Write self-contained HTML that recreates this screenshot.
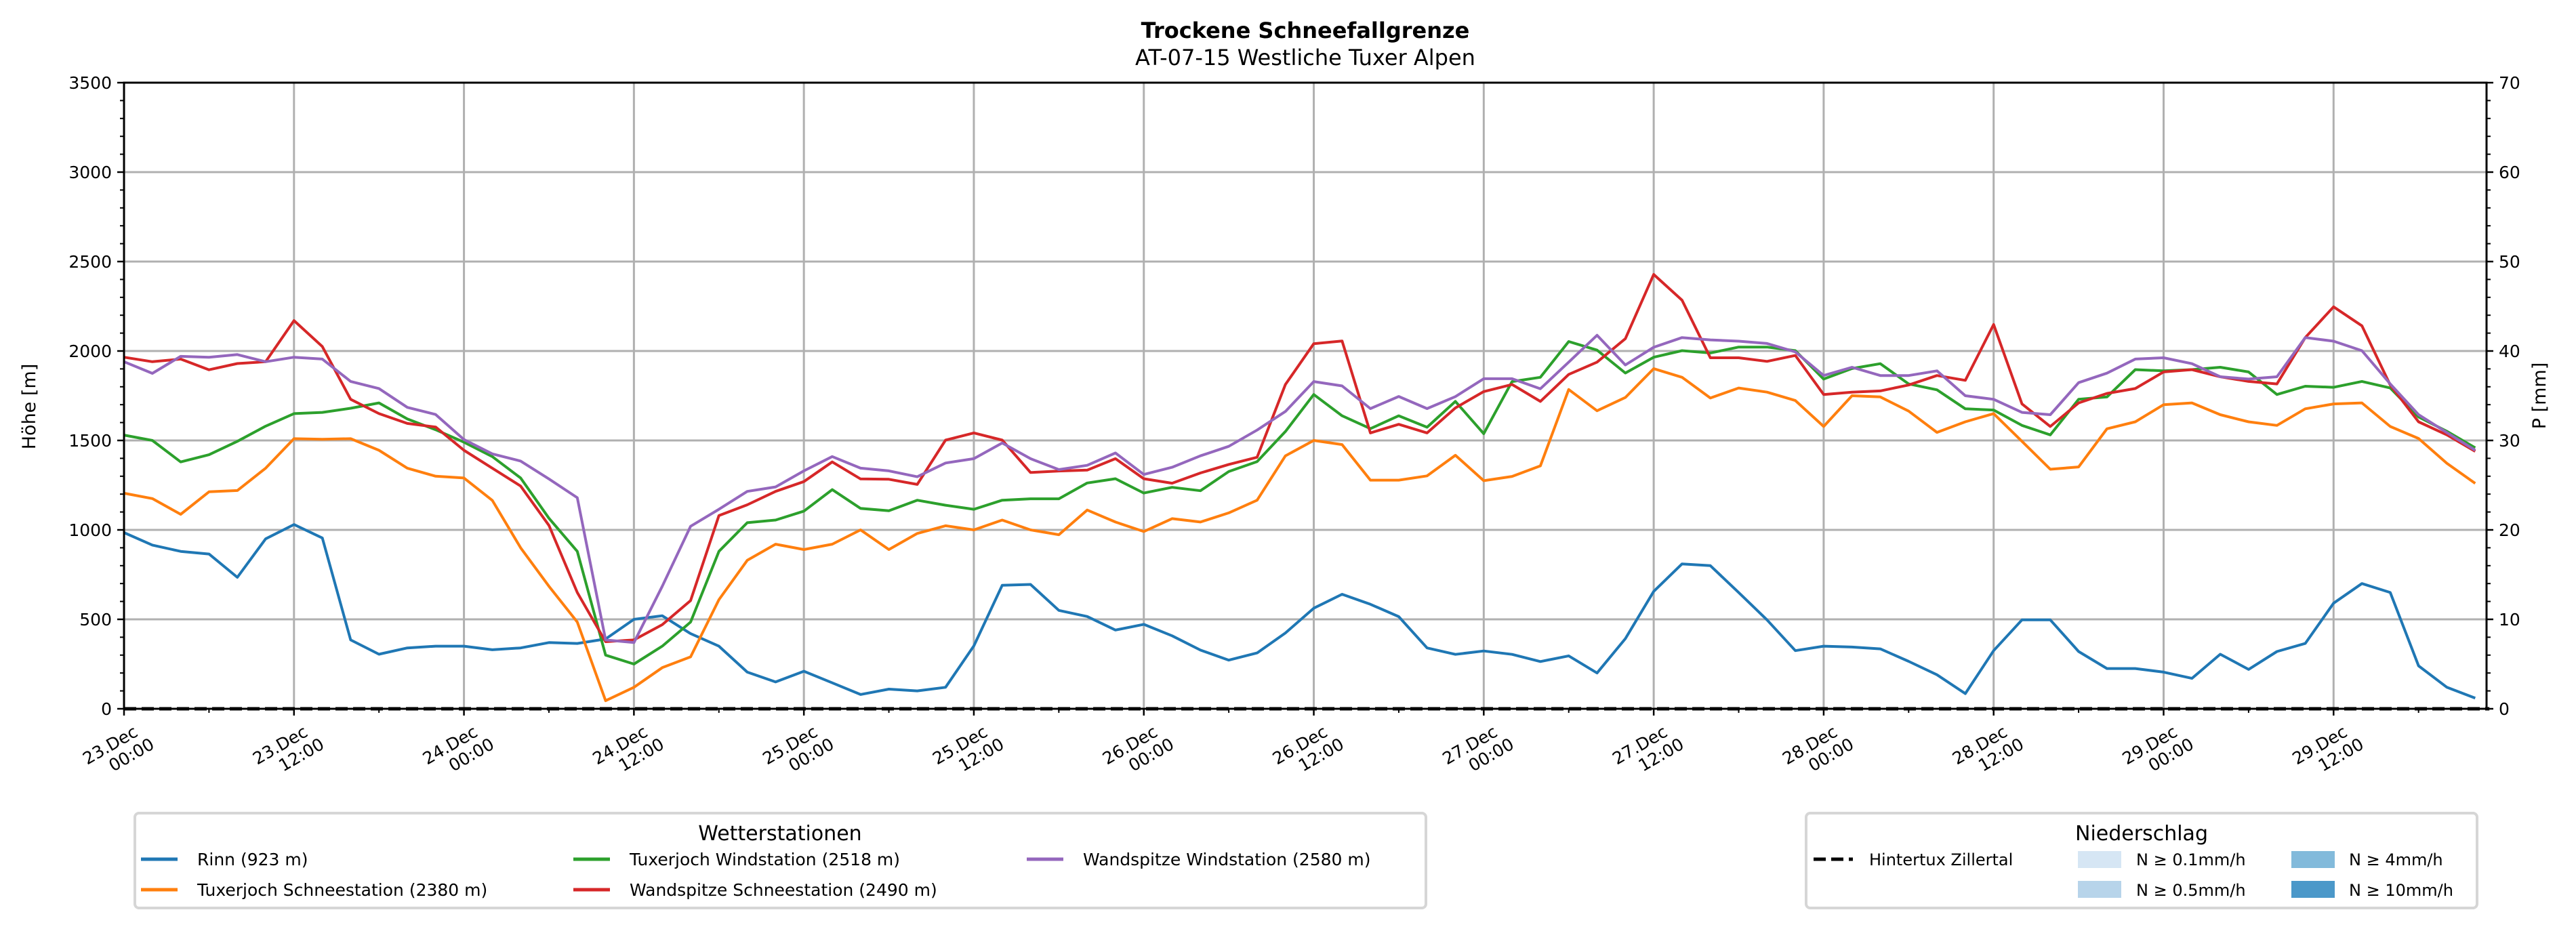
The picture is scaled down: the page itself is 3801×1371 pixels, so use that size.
<!DOCTYPE html>
<html><head><meta charset="utf-8"><style>
html,body{margin:0;padding:0;background:#fff;}
svg{display:block;font-family:"DejaVu Sans","Liberation Sans",sans-serif;}
</style></head><body>
<svg id="chart" width="3801" height="1371" viewBox="0 0 3801 1371" xmlns="http://www.w3.org/2000/svg">
<rect width="3801" height="1371" fill="#fff"/>
<text x="1926" y="56" text-anchor="middle" font-size="32" font-weight="bold">Trockene Schneefallgrenze</text>
<text x="1926" y="96" text-anchor="middle" font-size="32">AT-07-15 Westliche Tuxer Alpen</text>
<g id="grid"></g>
<g id="series"></g>
<g id="axes"></g>
<text transform="translate(52,600) rotate(-90)" text-anchor="middle" font-size="27">Höhe [m]</text>
<text transform="translate(3756,584) rotate(-90)" text-anchor="middle" font-size="27">P [mm]</text>

<g>
<rect x="199" y="1200" width="1905" height="140" rx="6" fill="#fff" stroke="#d6d6d6" stroke-width="4"/>
<text x="1151" y="1240" text-anchor="middle" font-size="30">Wetterstationen</text>
<g><line x1="208" y1="1268" x2="262" y2="1268" stroke="#1f77b4" stroke-width="5"/><text x="291" y="1277" font-size="25">Rinn (923 m)</text></g>
<g><line x1="208" y1="1313" x2="262" y2="1313" stroke="#ff7f0e" stroke-width="5"/><text x="291" y="1322" font-size="25">Tuxerjoch Schneestation (2380 m)</text></g>
<g><line x1="846" y1="1268" x2="900" y2="1268" stroke="#2ca02c" stroke-width="5"/><text x="929" y="1277" font-size="25">Tuxerjoch Windstation (2518 m)</text></g>
<g><line x1="846" y1="1313" x2="900" y2="1313" stroke="#d62728" stroke-width="5"/><text x="929" y="1322" font-size="25">Wandspitze Schneestation (2490 m)</text></g>
<g><line x1="1515" y1="1268" x2="1569" y2="1268" stroke="#9467bd" stroke-width="5"/><text x="1598" y="1277" font-size="25">Wandspitze Windstation (2580 m)</text></g>
</g>

<g>
<rect x="2665" y="1200" width="990" height="140" rx="6" fill="#fff" stroke="#d6d6d6" stroke-width="4"/>
<text x="3160" y="1240" text-anchor="middle" font-size="30">Niederschlag</text>
<g><line x1="2676" y1="1268" x2="2734" y2="1268" stroke="#000" stroke-width="5" stroke-dasharray="18,8"/><text x="2758" y="1277" font-size="24">Hintertux Zillertal</text></g>
<g><rect x="3066" y="1256" width="64" height="25" fill="#d6e6f4"/><text x="3152" y="1277" font-size="24">N ≥ 0.1mm/h</text></g>
<g><rect x="3066" y="1300" width="64" height="25" fill="#b7d4ea"/><text x="3152" y="1322" font-size="24">N ≥ 0.5mm/h</text></g>
<g><rect x="3381" y="1256" width="64" height="25" fill="#82badb"/><text x="3466" y="1277" font-size="24">N ≥ 4mm/h</text></g>
<g><rect x="3381" y="1300" width="64" height="25" fill="#4b98c9"/><text x="3466" y="1322" font-size="24">N ≥ 10mm/h</text></g>
</g>
</svg>
<script>
const hours = [];
for (let h = 0; h <= 166; h += 2) hours.push(h);
const rinn = [985,915,880,865,735,950,1030,955,385,305,340,350,350,330,340,370,365,390,500,520,420,350,205,150,210,145,80,
110,100,120,352,690,695,550,516,440,472,408,328,272,312,424,
562,640,584,515,340,304,323,304,264,296,200,392,656,810,
800,650,497,325,350,345,335,265,190,85,325,497,497,320,225,225,205,170,305,220,320,365,590,700,650,240,120,60];
const tuxSchnee = [1205,1175,1087,1213,1220,1345,1510,1507,1510,1445,1345,1300,1290,1165,900,685,485,45,120,230,290,610,830,920,890,920,1000,
890,980,1023,1000,1055,1000,973,1111,1044,991,1063,1044,1095,1166,1414,
1500,1477,1278,1278,1302,1417,1275,1299,1358,1785,1666,1740,1901,1853,
1737,1793,1770,1723,1578,1750,1743,1664,1545,1604,1650,1495,1339,1352,1565,1604,1700,1710,1644,1604,1584,1677,1704,1710,1578,1511,1372,1260];
const tuxWind = [1530,1500,1380,1420,1495,1580,1650,1657,1680,1710,1620,1560,1490,1410,1290,1065,880,300,250,350,485,880,1040,1055,1105,1225,1120,
1107,1166,1138,1115,1166,1174,1174,1262,1286,1206,1238,1219,1326,1382,1550,
1757,1638,1566,1638,1574,1718,1538,1829,1853,2053,2005,1877,1965,2002,
1989,2022,2022,2002,1843,1902,1929,1816,1783,1677,1670,1584,1531,1730,1743,1896,1889,1896,1909,1883,1757,1803,1797,1830,1793,1631,1551,1459];
const wandSchnee = [1965,1940,1955,1895,1930,1940,2170,2025,1730,1650,1595,1575,1445,1345,1245,1025,650,375,385,470,605,1080,1140,1215,1270,1380,1285,
1283,1254,1502,1542,1502,1321,1329,1334,1398,1286,1261,1318,1366,1406,1813,
2041,2056,1542,1590,1542,1682,1773,1813,1718,1869,1938,2069,2428,2284,
1962,1962,1942,1975,1757,1770,1777,1810,1863,1836,2148,1704,1578,1710,1763,1790,1883,1896,1856,1830,1816,2075,2247,2141,1810,1604,1531,1439];
const wandWind = [1940,1875,1970,1965,1980,1940,1965,1955,1830,1790,1685,1645,1505,1425,1385,1285,1180,385,370,685,1020,1115,1215,1240,1330,1410,1345,
1330,1297,1374,1398,1486,1398,1337,1361,1430,1310,1350,1414,1467,1558,1662,
1829,1805,1678,1746,1678,1745,1845,1845,1789,1938,2088,1922,2021,2075,
2062,2055,2042,1995,1863,1909,1863,1863,1889,1750,1730,1657,1644,1823,1876,1955,1962,1929,1856,1843,1856,2075,2055,2002,1816,1644,1544,1445];
const precip = [0,0];
const precipHours = [0,167];
const yTicks = [0,500,1000,1500,2000,2500,3000,3500];
const y2Ticks = [0,10,20,30,40,50,60,70];
const xTickLabels = [["23.Dec","00:00"],["23.Dec","12:00"],["24.Dec","00:00"],["24.Dec","12:00"],["25.Dec","00:00"],["25.Dec","12:00"],["26.Dec","00:00"],["26.Dec","12:00"],["27.Dec","00:00"],["27.Dec","12:00"],["28.Dec","00:00"],["28.Dec","12:00"],["29.Dec","00:00"],["29.Dec","12:00"]];

const L=183, R=3669, T=122, B=1046, HMAX=166.8;
const X = h => L + h*(R-L)/HMAX;
const Y = v => B - v*(B-T)/3500;
const Y2 = p => B - p*(B-T)/70;
const NS="http://www.w3.org/2000/svg";
function mk(tag, attrs, parent){const e=document.createElementNS(NS,tag);for(const k in attrs)e.setAttribute(k,attrs[k]);parent.appendChild(e);return e;}
const grid=document.getElementById('grid'), ser=document.getElementById('series'), ax=document.getElementById('axes');

xTickLabels.forEach((lab,i)=>{
  const x=X(i*12);
  const g=mk('line',{x1:x,y1:T,x2:x,y2:B,stroke:'#b0b0b0','stroke-width':3},grid);
  
  
});
yTicks.forEach(v=>{
  const g=mk('line',{x1:L,y1:Y(v),x2:R,y2:Y(v),stroke:'#b0b0b0','stroke-width':3},grid);
  
  
});

const seriesList=[[rinn,'#1f77b4','line-rinn'],[tuxSchnee,'#ff7f0e','line-tuxerjoch-schnee'],[tuxWind,'#2ca02c','line-tuxerjoch-wind'],[wandSchnee,'#d62728','line-wandspitze-schnee'],[wandWind,'#9467bd','line-wandspitze-wind']];
seriesList.forEach(([vals,col,name])=>{
  const pts=vals.map((v,i)=>X(hours[i]).toFixed(1)+','+Y(v).toFixed(1)).join(' ');
  const p=mk('polyline',{points:pts,fill:'none',stroke:col,'stroke-width':4,'stroke-linejoin':'round'},ser);
  
  
});
const pp=precip.map((v,i)=>X(precipHours[i]).toFixed(1)+','+Y2(v).toFixed(1)).join(' ');
const pl=mk('polyline',{points:pp,fill:'none',stroke:'#000','stroke-width':5,'stroke-dasharray':'18,8'},ser);



const fr=mk('rect',{x:L,y:T,width:R-L,height:B-T,fill:'none',stroke:'#000','stroke-width':3},ax);



for(let v=0;v<=3500;v+=100){
  const major=v%500===0;
  const t=mk('line',{x1:L,y1:Y(v),x2:L-(major?10:6),y2:Y(v),stroke:'#000','stroke-width':major?2.5:2},ax);
  
  
}
yTicks.forEach(v=>{
  const t=mk('text',{x:L-18,y:Y(v)+9,'text-anchor':'end','font-size':25},ax);
  t.textContent=v;
  
  
});
for(let p=0;p<=70;p+=2){
  const major=p%10===0;
  const t=mk('line',{x1:R,y1:Y2(p),x2:R+(major?10:6),y2:Y2(p),stroke:'#000','stroke-width':major?2.5:2},ax);
  
  
}
y2Ticks.forEach(p=>{
  const t=mk('text',{x:R+18,y:Y2(p)+9,'font-size':25},ax);
  t.textContent=p;
  
  
});
for(let h=0;h<=166;h+=6){
  const major=h%12===0;
  const t=mk('line',{x1:X(h),y1:B,x2:X(h),y2:B+(major?10:6),stroke:'#000','stroke-width':major?2.5:2},ax);
  
  
}
xTickLabels.forEach((lab,i)=>{
  const x=X(i*12)+22, y=1085;
  const t=mk('text',{transform:`translate(${x},${y}) rotate(-30)`,'text-anchor':'end','font-size':25},ax);
  
  
  const a=mk('tspan',{x:0,y:0},t); a.textContent=lab[0];
  const b=mk('tspan',{x:12,y:28},t); b.textContent=lab[1];
});
</script>
</body></html>
